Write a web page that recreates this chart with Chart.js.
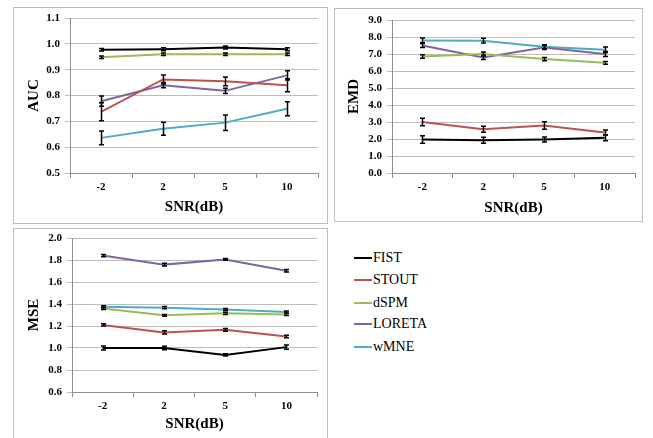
<!DOCTYPE html>
<html><head><meta charset="utf-8">
<script src="https://cdn.jsdelivr.net/npm/chart.js@4.4.1/dist/chart.umd.min.js"></script>
<style>
html,body{margin:0;padding:0;background:#fff;width:653px;height:438px;overflow:hidden;position:relative;font-family:"Liberation Serif",serif;}
.panel{position:absolute;border:1px solid #BDBDBD;background:#fff;}
.panel canvas{position:absolute;left:0;top:0;}
#legend{position:absolute;left:354px;top:248px;}
.li{position:absolute;left:0;height:20px;white-space:nowrap;font-size:14px;color:#000;}
.li span.sw{position:absolute;left:0;top:9px;width:18px;height:2px;}
.li span.tx{position:absolute;left:19px;top:0;line-height:20px;}
</style></head>
<body>
<div class="panel" id="p1" style="left:13px;top:7px;width:313px;height:215px;"><canvas id="c1" width="313" height="215"></canvas></div>
<div class="panel" id="p2" style="left:334px;top:8px;width:307px;height:212px;"><canvas id="c2" width="307" height="212"></canvas></div>
<div class="panel" id="p3" style="left:13px;top:228px;width:313px;height:216px;"><canvas id="c3" width="313" height="216"></canvas></div>
<div id="legend"></div>
<script>
// ---- data ----
const categories = ['-2', '2', '5', '10'];
const seriesNames = ['FIST', 'STOUT', 'dSPM', 'LORETA', 'wMNE'];
const seriesColors = ['#000000', '#C0504D', '#9BBB59', '#8064A2', '#4BACC6'];

const aucFIST   = [0.977, 0.979, 0.986, 0.979];
const aucSTOUT  = [0.737, 0.862, 0.855, 0.840];
const aucDSPM   = [0.948, 0.960, 0.960, 0.960];
const aucLORETA = [0.778, 0.840, 0.818, 0.878];
const aucWMNE   = [0.636, 0.671, 0.695, 0.749];
const aucErrFIST   = [0.005, 0.006, 0.006, 0.006];
const aucErrSTOUT  = [0.035, 0.017, 0.017, 0.025];
const aucErrDSPM   = [0.005, 0.005, 0.005, 0.005];
const aucErrLORETA = [0.020, 0.010, 0.010, 0.018];
const aucErrWMNE   = [0.027, 0.025, 0.030, 0.027];

const emdFIST   = [1.97, 1.93, 1.97, 2.07];
const emdSTOUT  = [3.00, 2.57, 2.80, 2.38];
const emdDSPM   = [6.85, 7.00, 6.70, 6.48];
const emdLORETA = [7.50, 6.80, 7.38, 7.00];
const emdWMNE   = [7.80, 7.78, 7.42, 7.25];
const emdErrFIST   = [0.22, 0.18, 0.15, 0.18];
const emdErrSTOUT  = [0.22, 0.18, 0.22, 0.15];
const emdErrDSPM   = [0.10, 0.12, 0.10, 0.08];
const emdErrLORETA = [0.12, 0.12, 0.12, 0.15];
const emdErrWMNE   = [0.14, 0.14, 0.12, 0.16];

const mseFIST   = [1.000, 1.000, 0.937, 1.008];
const mseSTOUT  = [1.210, 1.142, 1.165, 1.105];
const mseDSPM   = [1.360, 1.297, 1.315, 1.305];
const mseLORETA = [1.840, 1.758, 1.805, 1.702];
const mseWMNE   = [1.375, 1.367, 1.350, 1.327];
const mseErrFIST   = [0.018, 0.015, 0.010, 0.020];
const mseErrSTOUT  = [0.010, 0.015, 0.012, 0.012];
const mseErrDSPM   = [0.010, 0.008, 0.010, 0.010];
const mseErrLORETA = [0.010, 0.012, 0.008, 0.012];
const mseErrWMNE   = [0.010, 0.010, 0.010, 0.010];

const aucTicks = {min: 0.5, max: 1.1, step: 0.1};
const emdTicks = {min: 0.0, max: 9.0, step: 1.0};
const mseTicks = {min: 0.6, max: 2.0, step: 0.2};
const xTitle = 'SNR(dB)';

// ---- error bar plugin ----
const errorBars = {
  id: 'errorBars',
  afterDatasetsDraw(chart) {
    const ctx = chart.ctx;
    const ys = chart.scales.y;
    ctx.save();
    ctx.strokeStyle = '#000';
    ctx.lineWidth = 1.5;
    chart.data.datasets.forEach((ds, i) => {
      const meta = chart.getDatasetMeta(i);
      meta.data.forEach((pt, j) => {
        const v = ds.data[j], e = ds.errors[j];
        const x = Math.round(pt.x) + 0.5;
        const yt = ys.getPixelForValue(v + e);
        const yb = ys.getPixelForValue(v - e);
        ctx.beginPath();
        ctx.moveTo(x, yt); ctx.lineTo(x, yb);
        ctx.moveTo(x - 2.5, yt); ctx.lineTo(x + 2.5, yt);
        ctx.moveTo(x - 2.5, yb); ctx.lineTo(x + 2.5, yb);
        ctx.stroke();
      });
    });
    ctx.restore();
  }
};

const tickFont = {family: 'Liberation Serif', size: 11, weight: 'bold'};
const titleFont = {family: 'Liberation Serif', size: 15, weight: 'bold'};

function makeChart(id, yLabel, vals, errs, t, L) {
  const datasets = seriesNames.map((n, i) => ({
    label: n, data: vals[i], errors: errs[i],
    borderColor: seriesColors[i], backgroundColor: seriesColors[i],
    borderWidth: 2, pointRadius: 0, pointHoverRadius: 0, tension: 0, fill: false
  }));
  return new Chart(document.getElementById(id), {
    type: 'line',
    data: {labels: categories, datasets},
    plugins: [errorBars],
    options: {
      responsive: false, animation: false, devicePixelRatio: 1,
      layout: {padding: {left: 0, right: L.pr, top: L.pt, bottom: 0}},
      plugins: {legend: {display: false}, tooltip: {enabled: false}},
      scales: {
        x: {
          type: 'category', offset: true,
          grid: {display: true, drawOnChartArea: false, offset: true, tickLength: 5, color: '#8E8E8E', lineWidth: 1},
          border: {display: true, color: '#8E8E8E', width: 1},
          ticks: {font: tickFont, color: '#000', padding: 3, maxRotation: 0},
          title: {display: true, text: xTitle, font: titleFont, color: '#000', padding: {top: 0, bottom: L.xtb}},
          afterFit(s) { s.height = L.xh; s.paddingLeft = 0; s.paddingRight = 0; }
        },
        y: {
          type: 'linear', min: t.min, max: t.max,
          grid: {color: '#BDBDBD', lineWidth: 1, tickLength: 5},
          border: {display: true, color: '#8E8E8E', width: 1},
          ticks: {stepSize: t.step, font: tickFont, color: '#000', padding: 5,
                  callback: v => Number(v).toFixed(1)},
          title: {display: true, text: yLabel, font: titleFont, color: '#000', padding: {top: L.ytp, bottom: 0}},
          afterFit(s) { s.width = L.yw; s.paddingTop = 0; s.paddingBottom = 0; }
        }
      }
    }
  });
}

makeChart('c1', 'AUC',
  [aucFIST, aucSTOUT, aucDSPM, aucLORETA, aucWMNE],
  [aucErrFIST, aucErrSTOUT, aucErrDSPM, aucErrLORETA, aucErrWMNE],
  aucTicks, {pr: 9, pt: 10, xh: 50, yw: 56, xtb: 7, ytp: 11.5});
makeChart('c2', 'EMD',
  [emdFIST, emdSTOUT, emdDSPM, emdLORETA, emdWMNE],
  [emdErrFIST, emdErrSTOUT, emdErrDSPM, emdErrLORETA, emdErrWMNE],
  emdTicks, {pr: 7, pt: 11, xh: 48, yw: 57, xtb: 4, ytp: 10.5});
makeChart('c3', 'MSE',
  [mseFIST, mseSTOUT, mseDSPM, mseLORETA, mseWMNE],
  [mseErrFIST, mseErrSTOUT, mseErrDSPM, mseErrLORETA, mseErrWMNE],
  mseTicks, {pr: 10, pt: 9, xh: 53, yw: 58, xtb: 12, ytp: 11.5});

// ---- legend ----
const lg = document.getElementById('legend');
const legendTops = [0, 22, 45, 66, 89];
seriesNames.forEach((n, i) => {
  const d = document.createElement('div');
  d.className = 'li';
  d.style.top = legendTops[i] + 'px';
  d.innerHTML = '<span class="sw" style="background:' + seriesColors[i] + '"></span><span class="tx">' + n + '</span>';
  lg.appendChild(d);
});
</script>
</body></html>
